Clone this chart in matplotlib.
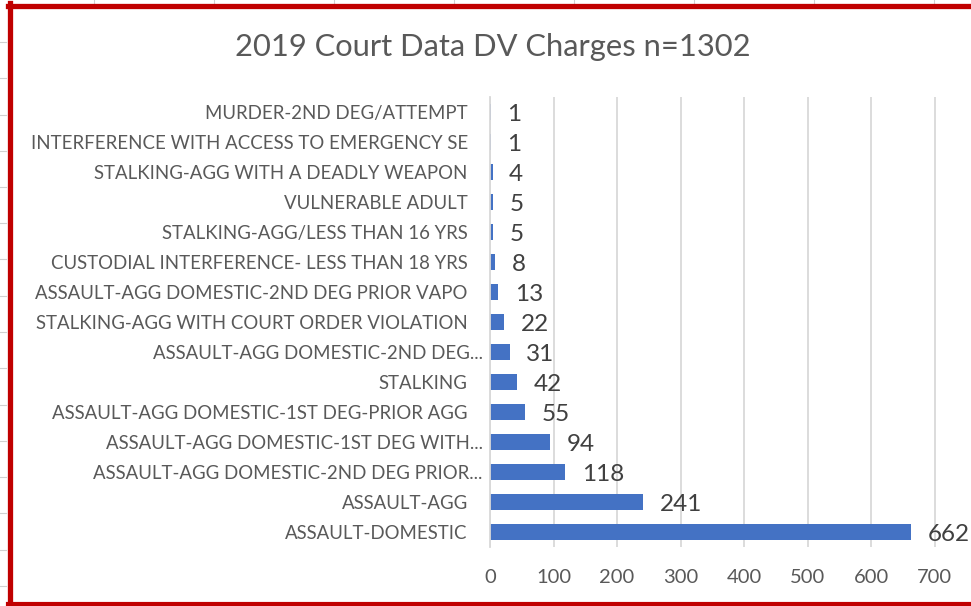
import numpy as np
import matplotlib.pyplot as plt
from matplotlib.lines import Line2D
from matplotlib.transforms import ScaledTranslation

# categories from bottom to top
charges = [
    'ASSAULT-DOMESTIC',
    'ASSAULT-AGG',
    'ASSAULT-AGG DOMESTIC-2ND DEG PRIOR...',
    'ASSAULT-AGG DOMESTIC-1ST DEG WITH...',
    'ASSAULT-AGG DOMESTIC-1ST DEG-PRIOR AGG',
    'STALKING',
    'ASSAULT-AGG DOMESTIC-2ND DEG...',
    'STALKING-AGG WITH COURT ORDER VIOLATION',
    'ASSAULT-AGG DOMESTIC-2ND DEG PRIOR VAPO',
    'CUSTODIAL INTERFERENCE- LESS THAN 18 YRS',
    'STALKING-AGG/LESS THAN 16 YRS',
    'VULNERABLE ADULT',
    'STALKING-AGG WITH A DEADLY WEAPON',
    'INTERFERENCE WITH ACCESS TO EMERGENCY SE',
    'MURDER-2ND DEG/ATTEMPT',
]
counts = [662, 241, 118, 94, 55, 42, 31, 22, 13, 8, 5, 5, 4, 1, 1]
x_ticks = [0, 100, 200, 300, 400, 500, 600, 700]

plt.rcParams['font.family'] = ['Lato', 'DejaVu Sans']

W, H = 971, 606
fig = plt.figure(figsize=(W / 100, H / 100), dpi=100)
fig.patch.set_facecolor('white')

ax = fig.add_axes([490 / W, 1 - 547 / H, (W - 490) / W, 450 / H])
y = np.arange(len(charges))
ax.barh(y, counts, height=0.53, color='#4472C4', zorder=3)
ax.set_ylim(-0.5, len(charges) - 0.5)
ax.set_xlim(0, 757)
ax.set_yticks(y)
ax.set_yticklabels(charges, fontsize=13.4, color='#595959')
ax.set_xticks(x_ticks)
ax.tick_params(axis='x', labelsize=14.5, labelcolor='#595959', length=0, pad=16)
ax.tick_params(axis='y', length=0, pad=16)
ax.grid(axis='x', color='#D9D9D9', linewidth=1.3, zorder=0)
for s in ['top', 'right', 'bottom']:
    ax.spines[s].set_visible(False)
ax.spines['left'].set_color('#D9D9D9')
ax.spines['left'].set_linewidth(1.3)
ax.spines['left'].set_zorder(4)

# truncated labels stick out a bit further to the right, like Excel does
for lab in ax.get_yticklabels():
    if lab.get_text().endswith('...'):
        lab.set_transform(lab.get_transform() + ScaledTranslation(0.15, 0, fig.dpi_scale_trans))

for yi, v in zip(y, counts):
    ax.annotate(str(v), (v, yi), xytext=(12, -2), textcoords='offset points',
                va='center', ha='left', fontsize=17.5, color='#404040',
                annotation_clip=False)

fig.text(493 / W, 1 - 47 / H, '2019 Court Data DV Charges n=1302',
         ha='center', va='center', fontsize=22.2, color='#595959')

# spreadsheet grid peeking out around the chart
for gx in np.arange(94, W, 120):
    fig.add_artist(Line2D([gx / W, gx / W], [1, 1 - 4 / H], color='#D0D0D0', lw=0.8))
for gy in np.arange(42, H, 36.25):
    fig.add_artist(Line2D([0, 6 / W], [1 - gy / H, 1 - gy / H], color='#D0D0D0', lw=0.8))

# red frame
red = '#C00000'
fig.add_artist(Line2D([10 / W, 10 / W], [1 - 3 / H, 0], color=red, lw=3.8))
fig.add_artist(Line2D([8 / W, 1], [1 - 5.5 / H, 1 - 5.5 / H], color=red, lw=3.8))
fig.add_artist(Line2D([8 / W, 1], [1 - 604 / H, 1 - 604 / H], color=red, lw=3.0))

fig.savefig('out.png', dpi=100)
